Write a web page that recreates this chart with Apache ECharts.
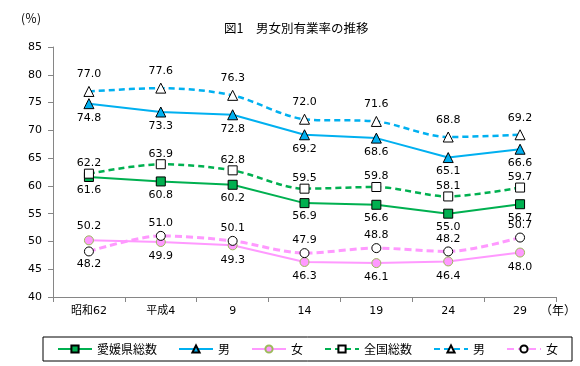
<!DOCTYPE html>
<html><head><meta charset="utf-8">
<script src="https://cdn.jsdelivr.net/npm/echarts@6/dist/echarts.min.js"></script>
<style>html,body{margin:0;padding:0;background:#fff}#c{width:580px;height:366px}</style>
</head><body><div id="c"></div>
<script>
const categories = ['昭和62','平成4','9','14','19','24','29'];
const ehimeTotal = [61.6, 60.8, 60.2, 56.9, 56.6, 55.0, 56.7];
const ehimeMale = [74.8, 73.3, 72.8, 69.2, 68.6, 65.1, 66.6];
const ehimeFemale = [50.2, 49.9, 49.3, 46.3, 46.1, 46.4, 48.0];
const nationTotal = [62.2, 63.9, 62.8, 59.5, 59.8, 58.1, 59.7];
const nationMale = [77.0, 77.6, 76.3, 72.0, 71.6, 68.8, 69.2];
const nationFemale = [48.2, 51.0, 50.1, 47.9, 48.8, 48.2, 50.7];
const seriesNames = ['愛媛県総数','男','女','全国総数','男 ','女 '];
const yTicks = {min: 40, max: 85, interval: 5};

// label placement (style)
const posEhimeTotal = ['bottom','bottom','bottom','bottom','bottom','bottom','bottom'];
const posEhimeMale = ['bottom','bottom','bottom','bottom','bottom','bottom','bottom'];
const posEhimeFemale = ['top','bottom','bottom','bottom','bottom','bottom','bottom'];
const posNationTotal = ['top','top','top','top','top','top','top'];
const posNationMale = ['top','top','top','top','top','top','top'];
const posNationFemale = ['bottom','top','top','top','top','top','top'];

const FONT = "'DejaVu Sans','Noto Sans CJK JP',sans-serif";
const CJK = "'Noto Sans CJK JP','DejaVu Sans',sans-serif";

function mk(vals, pos){
  return vals.map((v,i)=>({value:v, label:{position:pos[i]}}));
}
function series(name, vals, pos, color, lineType, width, symbol, size, fill, border, smooth, dist){
  return {
    name, type:'line', data: mk(vals,pos), smooth: smooth,
    symbol, symbolSize: size,
    lineStyle:{color, width, type: lineType},
    itemStyle:{color: fill, borderColor: border, borderWidth: 1},
    label:{show:true, formatter: p=>p.value.toFixed(1), fontFamily: FONT, fontSize: 11, color:'#000', distance: dist},
    z: 2
  };
}

const chart = echarts.init(document.getElementById('c'));
chart.setOption({
  animation:false,
  backgroundColor:'#fff',
  title:{text:'図1　男女別有業率の推移', left:219, top:17, textStyle:{fontFamily:CJK, fontSize:12.5, fontWeight:'normal', color:'#000'}},
  grid:{left:53, right:24, top:47, bottom:69},
  legend:{
    left:43, top:337, width:523,
    data: seriesNames,
    formatter: n=>n.trim(),
    borderColor:'#000', borderWidth:1, padding:[6,14,6,14],
    itemWidth:34, itemHeight:9, itemGap:21,
    textStyle:{fontFamily:CJK, fontSize:12, color:'#000'}
  },
  xAxis:{
    type:'category', data:categories, boundaryGap:true,
    axisLine:{lineStyle:{color:'#868686'}},
    axisTick:{show:true, interval:0, length:5, lineStyle:{color:'#868686'}},
    axisLabel:{margin:9, color:'#000', fontFamily:FONT, fontSize:11, interval:0}
  },
  yAxis:{
    type:'value', min:yTicks.min, max:yTicks.max, interval:yTicks.interval,
    axisLine:{show:true, lineStyle:{color:'#868686'}},
    axisTick:{show:true, length:5, lineStyle:{color:'#868686'}},
    splitLine:{show:false},
    axisLabel:{margin:11, color:'#000', fontFamily:FONT, fontSize:11}
  },
  graphic:[
    {type:'text', left:21, top:12, style:{text:'(％)', font:"12px 'Noto Sans CJK JP'", fill:'#000'}},
    {type:'text', left:540, top:304, style:{text:'（年）', font:"12px 'Noto Sans CJK JP'", fill:'#000'}}
  ],
  series:[
    series(seriesNames[0], ehimeTotal, posEhimeTotal, '#00B050','solid',2,'rect',9,'#00B050','#000',false,3),
    series(seriesNames[1], ehimeMale, posEhimeMale, '#00B0F0','solid',2,'triangle',10,'#00B0F0','#000',false,3),
    series(seriesNames[2], ehimeFemale, posEhimeFemale, '#FF99FF','solid',2,'circle',9,'#FF99FF','#9BBB59',false,4),
    series(seriesNames[3], nationTotal, posNationTotal, '#00B050',[6,4],2.5,'rect',9,'#fff','#000',0.3,0),
    series(seriesNames[4], nationMale, posNationMale, '#00B0F0',[6,4],2.5,'triangle',10,'#fff','#000',0.3,6),
    series(seriesNames[5], nationFemale, posNationFemale, '#FF99FF',[7,4],3,'circle',9,'#fff','#000',0.3,2)
  ]
});
</script></body></html>
